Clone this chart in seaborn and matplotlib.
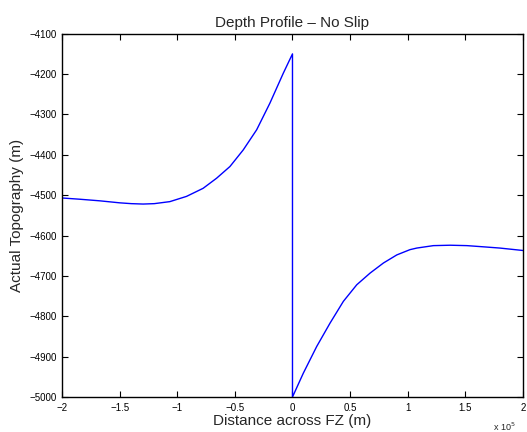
import seaborn as sns
import pandas as pd
import matplotlib
matplotlib.use("Agg")
import matplotlib.pyplot as plt

# distance across FZ in units of 1e5 m, topography in m
distance = [-2.0, -1.85, -1.674, -1.5, -1.4, -1.297, -1.2, -1.065, -0.92, -0.776,
            -0.659, -0.543, -0.428, -0.311, -0.196, -0.080, 0.0,
            0.0, 0.094, 0.21, 0.326, 0.442, 0.558, 0.674, 0.79, 0.906, 1.02,
            1.08, 1.224, 1.37, 1.515, 1.66, 1.80, 1.90, 2.0]
topography = [-4507, -4510, -4514, -4519, -4521, -4522, -4521, -4516, -4503, -4483,
              -4458, -4429, -4388, -4338, -4272, -4198, -4150,
              -5000, -4941, -4875, -4817, -4763, -4722, -4693, -4668, -4648, -4635,
              -4631, -4625, -4624, -4625, -4628, -4631, -4634, -4637]

df = pd.DataFrame({"dist": distance, "topo": topography})

sns.set_theme(style="ticks")
plt.rcParams['font.family'] = ['Liberation Sans', 'DejaVu Sans']

fig, ax = plt.subplots(figsize=(5.27, 4.32), dpi=100)
fig.subplots_adjust(left=0.118, right=0.992, top=0.922, bottom=0.081)

sns.lineplot(data=df, x="dist", y="topo", sort=False, estimator=None,
             color="#0000ff", linewidth=1.0, ax=ax)

ax.set_xlim(-2, 2)
ax.set_ylim(-5000, -4100)
ax.set_xticks([-2, -1.5, -1, -0.5, 0, 0.5, 1, 1.5, 2])
ax.set_xticklabels(["\u22122", "\u22121.5", "\u22121", "\u22120.5", "0", "0.5", "1", "1.5", "2"])
yt = list(range(-5000, -4099, 100))
ax.set_yticks(yt)
ax.set_yticklabels(["\u2212%d" % abs(v) for v in yt])

ax.tick_params(direction="in", length=4, width=0.8, labelsize=7, colors="black",
               top=True, right=True, pad=4)
for s in ax.spines.values():
    s.set_visible(True)
    s.set_linewidth(1.0)
    s.set_color("black")

ax.set_title("Depth Profile \u2013 No Slip", fontsize=11, pad=5)
ax.set_xlabel("Distance across FZ (m)", fontsize=11, labelpad=1)
ax.set_ylabel("Actual Topography (m)", fontsize=11, labelpad=4)
ax.text(0.985, -0.065, "x 10$^5$", transform=ax.transAxes, fontsize=6.5,
        ha="right", va="top")

fig.savefig("out.png", dpi=100)
